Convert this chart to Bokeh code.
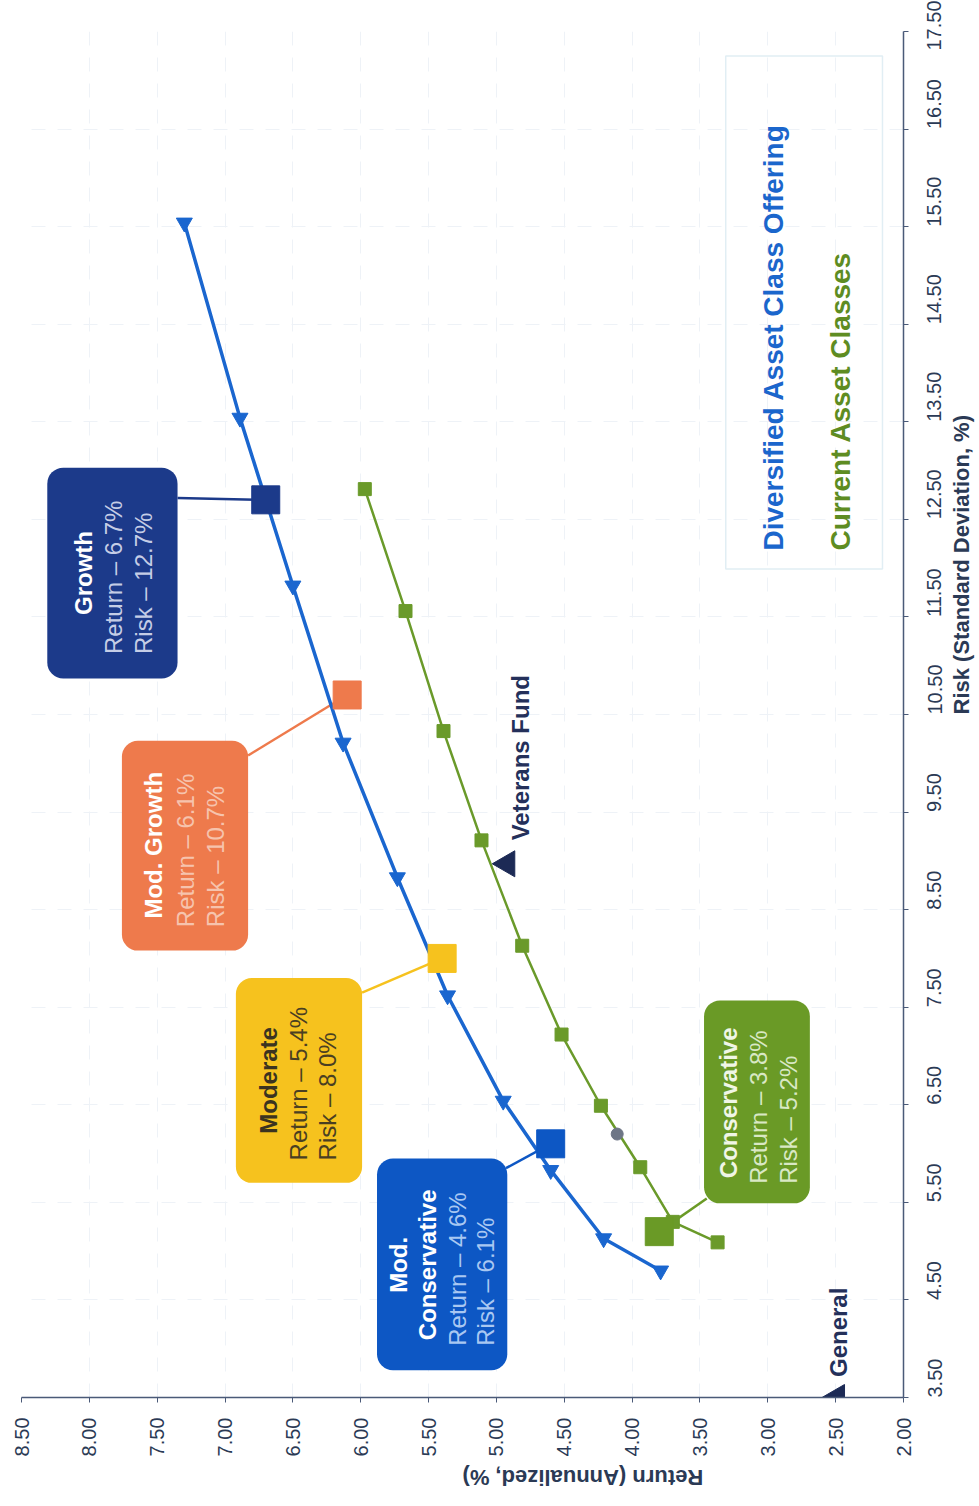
from math import pi
from bokeh.plotting import figure
from bokeh.models import Range1d, FixedTicker, PrintfTickFormatter, BoxAnnotation
from bokeh.embed import file_html
from bokeh.resources import INLINE
from bokeh.core.properties import value

FONT = "Liberation Sans"

# ---------------- data ----------------
# Diversified Asset Class Offering (blue efficient frontier)
div_return = [3.79, 4.21, 4.60, 4.95, 5.36, 5.73, 6.13, 6.50, 6.89, 7.30]
div_risk = [4.80, 5.13, 5.83, 6.54, 7.62, 8.83, 10.21, 11.82, 13.54, 15.54]

# Current Asset Classes (green frontier)
cur_return = [3.37, 3.70, 3.94, 4.23, 4.52, 4.81, 5.11, 5.39, 5.67, 5.97]
cur_risk = [5.09, 5.30, 5.86, 6.49, 7.22, 8.13, 9.21, 10.33, 11.56, 12.81]

# current portfolio point (grey)
now_return = [4.11]
now_risk = [6.20]

# model portfolios
port_names = ["Conservative", "Mod. Conservative", "Moderate", "Mod. Growth", "Growth"]
port_return = [3.8, 4.6, 5.4, 6.1, 6.7]
port_risk = [5.2, 6.1, 8.0, 10.7, 12.7]
port_colors = ["#6A9A26", "#0D57C4", "#F6C21E", "#EE7A4C", "#1C3A8A"]

# funds (triangles)
fund_names = ["Veterans Fund", "General"]
fund_return = [4.92, 2.49]
fund_risk = [8.97, 3.50]

return_ticks = [2.0, 2.5, 3.0, 3.5, 4.0, 4.5, 5.0, 5.5, 6.0, 6.5, 7.0, 7.5, 8.0, 8.5]
risk_ticks = [3.5, 4.5, 5.5, 6.5, 7.5, 8.5, 9.5, 10.5, 11.5, 12.5, 13.5, 14.5, 15.5, 16.5, 17.5]

# ---------------- annotation layout (data units) ----------------
callouts = [
    dict(i=4, box=(8.31, 7.35, 13.03, 10.87), title=["Growth"], tx=[8.04], ty=11.95,
         lx=[7.82, 7.60], ly=11.12, cstart=(7.35, 12.72), tcol="#FFFFFF", lcol="#C5CDE6"),
    dict(i=3, box=(7.76, 6.83, 10.23, 8.08), title=["Mod. Growth"], tx=[7.53], ty=9.16,
         lx=[7.29, 7.07], ly=8.32, cstart=(6.83, 10.08), tcol="#FFFFFF", lcol="#F6C3AD"),
    dict(i=2, box=(6.92, 5.99, 7.80, 5.70), title=["Moderate"], tx=[6.68], ty=6.75,
         lx=[6.46, 6.245], ly=5.93, cstart=(5.99, 7.65), tcol="#3B3320", lcol="#4A3F22"),
    dict(i=1, box=(5.88, 4.92, 5.95, 3.78), title=["Mod.", "Conservative"], tx=[5.72, 5.51], ty=4.86,
         lx=[5.29, 5.08], ly=4.03, cstart=(4.93, 5.85), tcol="#FFFFFF", lcol="#A9C8F2"),
    dict(i=0, box=(3.47, 2.69, 7.57, 5.49), title=["Conservative"], tx=[3.29], ty=6.52,
         lx=[3.07, 2.85], ly=5.69, cstart=(3.45, 5.54), tcol="#F0F6E6", lcol="#D9E8C4"),
]

p = figure(frame_width=882, frame_height=1366,
           x_range=Range1d(8.5, 2.0), y_range=Range1d(3.5, 17.5),
           y_axis_location="right", output_backend="svg", toolbar_location=None,
           min_border_left=21, min_border_top=31, min_border_right=0, min_border_bottom=2,
           background_fill_color="white", border_fill_color="white", outline_line_color=None)

# axes
axis_col = "#4A5A78"
text_col = "#2B3A55"
for ax, ticks in ((p.xaxis[0], return_ticks), (p.yaxis[0], risk_ticks)):
    ax.ticker = FixedTicker(ticks=ticks)
    ax.formatter = PrintfTickFormatter(format="%.2f")
    ax.major_label_orientation = pi / 2
    ax.major_label_text_font = FONT
    ax.major_label_text_font_size = "20px"
    ax.major_label_text_color = text_col
    ax.axis_line_color = axis_col
    ax.axis_line_width = 1.5
    ax.major_tick_line_color = axis_col
    ax.major_tick_in = 0
    ax.major_tick_out = 5
    ax.minor_tick_line_color = None
    ax.axis_label_text_font = FONT
    ax.axis_label_text_font_size = "22px"
    ax.axis_label_text_font_style = "bold"
    ax.axis_label_text_color = text_col

p.xaxis[0].major_label_standoff = 15
p.xaxis[0].axis_label_standoff = 18
p.yaxis[0].major_label_standoff = 26
p.yaxis[0].axis_label_standoff = 10

p.xaxis[0].axis_label = "Return (Annualized, %)"
p.xaxis[0].axis_label_orientation = pi
p.yaxis[0].axis_label = "Risk (Standard Deviation, %)"
p.yaxis[0].axis_label_orientation = pi / 2

p.xgrid.ticker = FixedTicker(ticks=return_ticks)
p.ygrid.ticker = FixedTicker(ticks=risk_ticks)
for g in (p.xgrid[0], p.ygrid[0]):
    g.grid_line_color = "#EEF2F7"
    g.grid_line_dash = "14 12"
    g.grid_line_width = 1

# legend box (underlay)
p.add_layout(BoxAnnotation(left=3.31, right=2.155, top=17.25, bottom=11.99,
                           fill_alpha=0, line_color="#9CC8DC", line_width=1.5, level="underlay"))

# callout boxes
for c in callouts:
    l, r, t, b = c["box"]
    p.add_layout(BoxAnnotation(left=l, right=r, top=t, bottom=b, fill_color=port_colors[c["i"]],
                               fill_alpha=1, line_color=None, border_radius=16, level="underlay"))

# connectors
for c in callouts:
    i = c["i"]
    sx, sy = c["cstart"]
    p.line(x=[sx, port_return[i]], y=[sy, port_risk[i]], line_color=port_colors[i], line_width=2.5)

# frontier lines
p.line(x=cur_return, y=cur_risk, line_color="#6A9A2A", line_width=2.5)
p.scatter(x=cur_return, y=cur_risk, marker="square", size=13, fill_color="#6A9A2A", line_color="#6A9A2A")
p.scatter(x=now_return, y=now_risk, marker="circle", size=12, fill_color="#6E7686", line_color="#6E7686")

p.line(x=div_return, y=div_risk, line_color="#1A66CF", line_width=3.5)
p.scatter(x=div_return, y=div_risk, marker="inverted_triangle", size=16,
          fill_color="#1A66CF", line_color="#1A66CF")

# model portfolios (big squares)
p.scatter(x=port_return, y=port_risk, marker="square", size=28, fill_color=port_colors, line_color=port_colors)

# funds
p.scatter(x=fund_return, y=fund_risk, marker="triangle", angle=pi / 2, size=26,
          fill_color="#1C2A55", line_color="#1C2A55")

# callout texts
for c in callouts:
    i = c["i"]
    p.text(x=c["tx"], y=[c["ty"]] * len(c["tx"]), text=c["title"], angle=pi / 2,
           text_font=value(FONT), text_font_size="24px", text_font_style="bold",
           text_color=c["tcol"], text_align="center", text_baseline="middle")
    lines = ["Return \u2013 %.1f%%" % port_return[i], "Risk \u2013 %.1f%%" % port_risk[i]]
    p.text(x=c["lx"], y=[c["ly"]] * 2, text=lines, angle=pi / 2,
           text_font=value(FONT), text_font_size="24px",
           text_color=c["lcol"], text_align="left", text_baseline="middle")

# fund labels
p.text(x=[4.823, 2.479], y=[9.21, 3.71], text=fund_names, angle=pi / 2,
       text_font=value(FONT), text_font_size="24px", text_font_style="bold",
       text_color="#24305A", text_align="left", text_baseline="middle")

# legend texts
p.text(x=[2.958], y=[12.18], text=["Diversified Asset Class Offering"], angle=pi / 2,
       text_font=value(FONT), text_font_size="28px", text_font_style="bold",
       text_color="#1B66CC", text_align="left", text_baseline="middle")
p.text(x=[2.465], y=[12.18], text=["Current Asset Classes"], angle=pi / 2,
       text_font=value(FONT), text_font_size="28px", text_font_style="bold",
       text_color="#5E8C22", text_align="left", text_baseline="middle")

open("out.html", "w").write(file_html(p, INLINE))
